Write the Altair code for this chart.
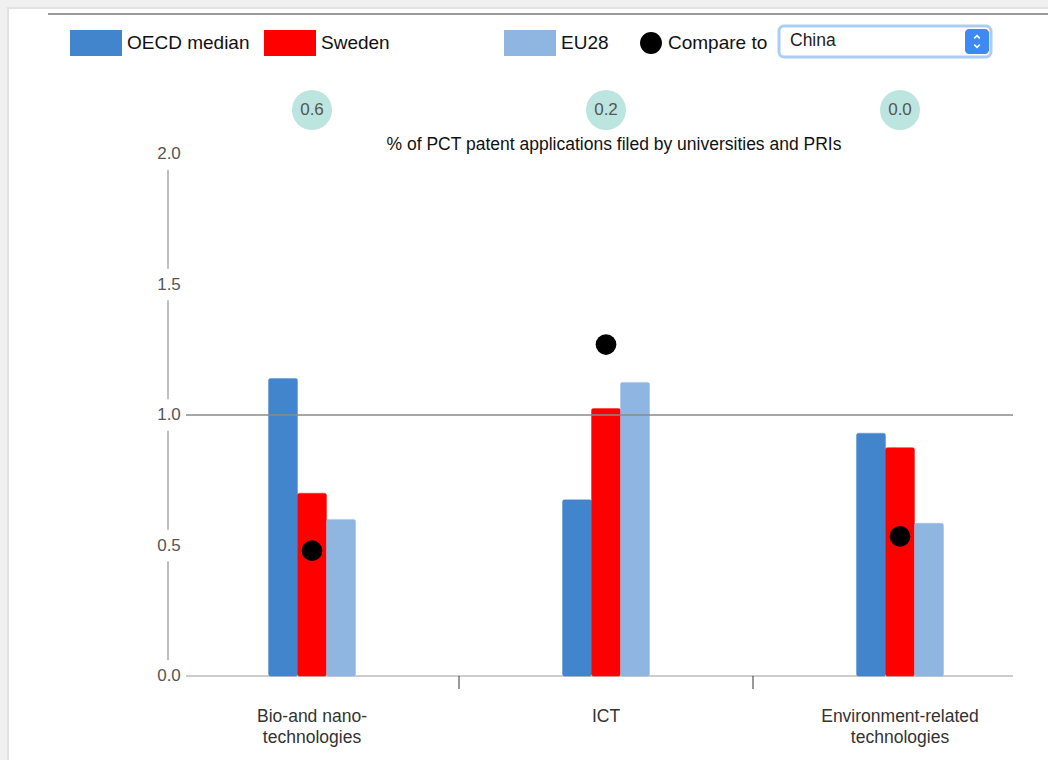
import altair as alt
import pandas as pd

# ---------------- data ----------------
categories = ["Bio-and nano-technologies", "ICT", "Environment-related technologies"]
series = ["OECD median", "Sweden", "EU28"]
oecd_median = [1.14, 0.675, 0.93]
sweden = [0.70, 1.025, 0.875]
eu28 = [0.60, 1.125, 0.585]
china = [0.48, 1.27, 0.535]
badge_values = [0.6, 0.2, 0.0]
y_ticks = [0.0, 0.5, 1.0, 1.5, 2.0]
reference_value = 1.0
compare_label = "Compare to"
compare_country = "China"
subtitle = "% of PCT patent applications filed by universities and PRIs"

# ---------------- style / layout ----------------
colors = ["#4285CC", "#FF0000", "#8FB6E0"]
FONT = "Liberation Sans"
W, H = 882, 522
PAD_L, PAD_T = 165, 154
PAD_R, PAD_B = 1048 - PAD_L - W, 760 - PAD_T - H
STEP = W / len(categories)
BAR_W = 29
GROUP_W = BAR_W * len(series)
P_IN = 1 - GROUP_W / STEP
P_OUT = P_IN / 2


def px(x):
    return x - PAD_L


def py(y):
    return y - PAD_T


bars_df = pd.DataFrame(
    [
        {"cat": c, "series": s, "value": v}
        for s, vals in zip(series, [oecd_median, sweden, eu28])
        for c, v in zip(categories, vals)
    ]
)
china_df = pd.DataFrame({"cat": categories, "value": china})
badge_df = pd.DataFrame(
    {"cat": categories, "badge": badge_values, "label": [f"{b:.1f}" for b in badge_values]}
)
bound_df = pd.DataFrame({"cat": categories[1:]})
gap = 0.06
seg_df = pd.DataFrame(
    {"y0": [a + gap for a in y_ticks[:-1]], "y1": [b - gap for b in y_ticks[1:]]}
)
ytick_df = pd.DataFrame({"v": y_ticks, "label": [f"{t:.1f}" for t in y_ticks]})
zero_df = pd.DataFrame({"v": [0.0]})
ref_df = pd.DataFrame({"v": [reference_value]})
one = pd.DataFrame({"a": [0]})

label_expr = (
    "datum.value == 'ICT' ? 'ICT' : "
    "(indexof(datum.value, 'Bio') == 0 ? ['Bio-and nano-', 'technologies'] : "
    "['Environment-related', 'technologies'])"
)
x_axis = alt.Axis(
    title=None, domain=False, ticks=False, grid=False, labelAngle=0,
    labelFontSize=17.5, labelColor="#333", labelFont=FONT, labelPadding=31,
    labelLineHeight=21, labelExpr=label_expr, zindex=2, labelOverlap=False,
)
x_scale = alt.Scale(domain=categories, paddingInner=P_IN, paddingOuter=P_OUT)


def xenc(**kw):
    return alt.X("cat:N", sort=categories, scale=x_scale, axis=x_axis, **kw)


y_scale = alt.Scale(domain=[0, 2], nice=False, zero=True)


def yenc(field):
    return alt.Y(field, scale=y_scale, axis=None, title=None)


series_scale = alt.Scale(domain=series, range=colors)

# background panel and top rule
bg = alt.Chart(one).mark_rect(fill="white", stroke="#e2e2e2", strokeWidth=2).encode(
    x=alt.value(px(8)), x2=alt.value(px(1060)), y=alt.value(py(8)), y2=alt.value(py(770))
)
top_line = alt.Chart(one).mark_rule(color="#9a9a9a", strokeWidth=2).encode(
    x=alt.value(px(48)), x2=alt.value(px(1048)), y=alt.value(py(14))
)

# y axis drawn as segments + centered labels
y_segs = alt.Chart(seg_df).mark_rule(color="#aaaaaa", strokeWidth=1.5).encode(
    x=alt.value(3), y=yenc("y0:Q"), y2="y1:Q"
)
y_labels = alt.Chart(ytick_df).mark_text(
    font=FONT, fontSize=17, color="#555", align="center", baseline="middle"
).encode(x=alt.value(4), y=yenc("v:Q"), text="label:N")

baseline = alt.Chart(zero_df).mark_rule(color="#cccccc", strokeWidth=2).encode(
    x=alt.value(px(186)), x2=alt.value(px(1013)), y=yenc("v:Q")
)
bounds = alt.Chart(bound_df).mark_rule(color="#333", strokeWidth=1, xOffset=-STEP / 2).encode(
    x=xenc(), y=alt.value(H), y2=alt.value(H + 13)
)

bars = alt.Chart(bars_df).mark_bar(cornerRadius=2, strokeWidth=0.6).encode(
    x=xenc(),
    xOffset=alt.XOffset("series:N", sort=series,
                        scale=alt.Scale(domain=series, paddingInner=0, paddingOuter=0)),
    y=yenc("value:Q"),
    color=alt.Color("series:N", scale=series_scale, legend=None),
    stroke=alt.Stroke("series:N", scale=series_scale, legend=None),
)

ref_line = alt.Chart(ref_df).mark_rule(color="#8a8a8a", strokeWidth=1.5).encode(
    x=alt.value(px(186)), x2=alt.value(px(1013)), y=yenc("v:Q")
)

dots = alt.Chart(china_df).mark_point(filled=True, color="black", opacity=1, size=430).encode(
    x=xenc(), y=yenc("value:Q")
)

badges = alt.Chart(badge_df).mark_point(
    filled=True, color="#BDE5DF", opacity=1, size=1600, shape="circle"
).encode(x=xenc(), y=alt.value(py(110)))
badge_text = alt.Chart(badge_df).mark_text(
    font=FONT, fontSize=17, color="#555", align="center", baseline="middle"
).encode(x=xenc(), y=alt.value(py(110)), text="label:N")

sub = alt.Chart(one).mark_text(
    font=FONT, fontSize=17.5, color="#111", align="center", baseline="middle"
).encode(x=alt.value(px(614)), y=alt.value(py(145)), text=alt.value(subtitle))

# legend (drawn)
legend_layers = []
legend_pos = [(70, 127), (264, 321), (504, 561)]
for (sx, tx), name, col in zip(legend_pos, series, colors):
    legend_layers.append(
        alt.Chart(one).mark_rect(fill=col).encode(
            x=alt.value(px(sx)), x2=alt.value(px(sx + 52)),
            y=alt.value(py(30)), y2=alt.value(py(56)),
        )
    )
    legend_layers.append(
        alt.Chart(one).mark_text(
            font=FONT, fontSize=19, color="#111", align="left", baseline="middle"
        ).encode(x=alt.value(px(tx)), y=alt.value(py(43)), text=alt.value(name))
    )
legend_layers.append(
    alt.Chart(one).mark_point(filled=True, color="black", opacity=1, size=480).encode(
        x=alt.value(px(651)), y=alt.value(py(43))
    )
)
legend_layers.append(
    alt.Chart(one).mark_text(
        font=FONT, fontSize=19, color="#111", align="left", baseline="middle"
    ).encode(x=alt.value(px(668)), y=alt.value(py(43)), text=alt.value(compare_label))
)

# dropdown look-alike
sel_box = alt.Chart(one).mark_rect(
    fill="white", stroke="#A9CDF5", strokeWidth=3, cornerRadius=5
).encode(x=alt.value(px(779)), x2=alt.value(px(991)), y=alt.value(py(26)), y2=alt.value(py(57)))
sel_text = alt.Chart(one).mark_text(
    font=FONT, fontSize=17.5, color="#222", align="left", baseline="middle"
).encode(x=alt.value(px(790)), y=alt.value(py(41)), text=alt.value(compare_country))
sel_btn = alt.Chart(one).mark_rect(fill="#3D8AF7", cornerRadius=4).encode(
    x=alt.value(px(965)), x2=alt.value(px(989)), y=alt.value(py(29)), y2=alt.value(py(54))
)
chev_up = alt.Chart(one).mark_point(
    shape="M-1,0.5L0,-0.5L1,0.5", filled=False, color="white", strokeWidth=1.5, size=30, opacity=1
).encode(x=alt.value(px(977)), y=alt.value(py(37)))
chev_dn = alt.Chart(one).mark_point(
    shape="M-1,-0.5L0,0.5L1,-0.5", filled=False, color="white", strokeWidth=1.5, size=30, opacity=1
).encode(x=alt.value(px(977)), y=alt.value(py(46)))

chart = alt.layer(
    bg, top_line, y_segs, y_labels, baseline, bounds, bars, ref_line, dots,
    badges, badge_text, sub, *legend_layers, sel_box, sel_text, sel_btn, chev_up, chev_dn,
).properties(
    width=W, height=H,
    autosize=alt.AutoSizeParams(type="none"),
    padding={"left": PAD_L, "top": PAD_T, "right": PAD_R, "bottom": PAD_B},
    background="#F0F0F0",
).configure_view(stroke=None)

chart.save("out.html", embed_options={"renderer": "svg", "actions": False})
